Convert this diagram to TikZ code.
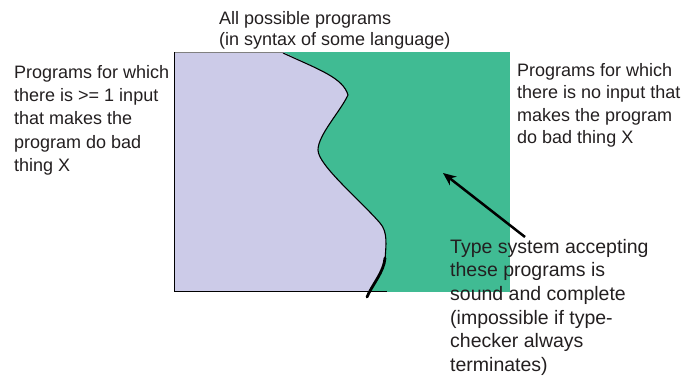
\documentclass[tikz,border=0pt]{standalone}
\usepackage{fontspec}
\setmainfont{Liberation Sans}
\usetikzlibrary{arrows.meta,calc}
\definecolor{badcol}{RGB}{204,203,232}
\definecolor{goodcol}{RGB}{64,187,147}
\definecolor{txtcol}{RGB}{35,31,32}
\tikzset{
    >={Stealth[length=13pt,width=11pt]},
    lbl/.style={align=left, inner sep=0pt, anchor=base west, text=txtcol,
        font=\fontsize{18}{23.4}\selectfont},
}

\begin{document}
\begin{tikzpicture}[x=1pt,y=-1pt]
    \useasboundingbox (0,0) rectangle (699,375);

    % the two sets of programs
    \fill[goodcol] (174,52) rectangle (510,292);
    \begin{scope}
        \clip (174,52) rectangle (510,291);
        \fill[badcol] (174,52) -- (283,52)
            .. controls (320,70) and (343,78) .. (348,95)
            .. controls (340,112) and (318,135) .. (318,150)
            .. controls (318,165) and (360,200) .. (380,223)
            .. controls (388,232) and (386,245) .. (385,260)
            .. controls (384,272) and (372,285) .. (367,297)
            -- (174,297) -- cycle;
    \end{scope}
    \draw[gray, line width=1pt] (174,52) -- (283,52);
    \draw[line width=1pt] (174,52) -- (174,291) -- (387,291);

    % border between them
    \draw[line width=1.1pt] (283,53)
        .. controls (320,70) and (343,78) .. (348,95)
        .. controls (340,112) and (318,135) .. (318,150)
        .. controls (318,165) and (360,200) .. (380,223)
        .. controls (388,232) and (386,245) .. (385,260);
    \draw[line width=2.8pt, line cap=round] (385,258)
        .. controls (384,272) and (372,285) .. (367,297);

    % labels (anchored at the baseline of their last line)
    \node[lbl, font=\fontsize{18}{21.4}\selectfont] (all) at (219,45.7)
        {All possible programs\\(in syntax of some language)};
    \node[lbl] (bad) at (14,171.6)
        {Programs for which\\there is >= 1 input\\that makes the\\program do bad\\thing X};
    \node[lbl, font=\fontsize{18}{22.5}\selectfont] (good) at (517,143.5)
        {Programs for which\\there is no input that\\makes the program\\do bad thing X};
    \node[lbl, font=\fontsize{19.5}{23.7}\selectfont] (sound) at (450,371.5)
        {Type system accepting\\these programs is\\sound and complete\\(impossible if type-\\checker always\\terminates)};

    \coordinate (tail) at (525,237);
    \coordinate (tip) at (443,173);
    \draw[->, line width=2.5pt] (tail) -- (tip);
\end{tikzpicture}
\end{document}
